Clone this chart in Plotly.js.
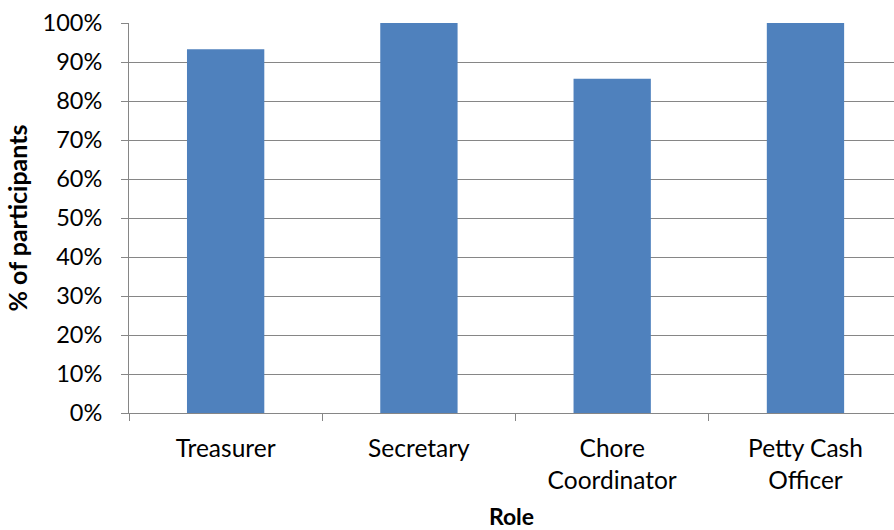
<!DOCTYPE html>
<html>
<head>
<meta charset="utf-8">
<script src="https://cdn.plot.ly/plotly-3.0.1.min.js"></script>
<style>html,body{margin:0;padding:0;background:#fff;}#chart{width:894px;height:530px;}</style>
</head>
<body>
<div id="chart"></div>
<script>
const roles = ["Treasurer", "Secretary", "Chore<br>Coordinator", "Petty Cash<br>Officer"];
const percentParticipants = [0.933, 1.0, 0.857, 1.0];
const yTickValues = [0, 0.1, 0.2, 0.3, 0.4, 0.5, 0.6, 0.7, 0.8, 0.9, 1.0];
const yTickLabels = ["0%", "10%", "20%", "30%", "40%", "50%", "60%", "70%", "80%", "90%", "100%"];

const fontFamily = "Lato, 'Open Sans', sans-serif";
const data = [{
  type: "bar",
  x: roles,
  y: percentParticipants,
  marker: { color: "#4F81BD", line: { width: 0 } },
  hoverinfo: "none"
}];

const layout = {
  width: 894,
  height: 530,
  margin: { l: 129, r: 0, t: 23, b: 117 },
  paper_bgcolor: "#ffffff",
  plot_bgcolor: "#ffffff",
  bargap: 0.6,
  showlegend: false,
  font: { family: fontFamily, size: 24, color: "#000000" },
  xaxis: {
    type: "category",
    range: [-0.5, 3.458],
    showgrid: false,
    showline: true,
    linecolor: "#868686",
    linewidth: 1,
    ticks: "outside",
    tickson: "boundaries",
    ticklen: 7,
    tickcolor: "#868686",
    tickfont: { family: fontFamily, size: 24.5, color: "#000000" },
    ticklabelstandoff: 14,
    title: { text: "<b>Role</b>", font: { family: fontFamily, size: 23 }, standoff: 18 },
    fixedrange: true
  },
  yaxis: {
    range: [0, 1.0],
    tickvals: yTickValues,
    ticktext: yTickLabels,
    showgrid: true,
    gridcolor: "#868686",
    gridwidth: 1,
    zeroline: false,
    showline: true,
    linecolor: "#868686",
    linewidth: 1,
    ticks: "outside",
    ticklen: 7,
    tickcolor: "#868686",
    tickfont: { family: fontFamily, size: 23.5, color: "#000000" },
    ticklabelstandoff: 14,
    title: { text: "<b>% of participants</b>", font: { family: fontFamily, size: 25 }, standoff: 7 },
    fixedrange: true
  }
};

Plotly.newPlot("chart", data, layout, { displayModeBar: false, staticPlot: true });
</script>
</body>
</html>
